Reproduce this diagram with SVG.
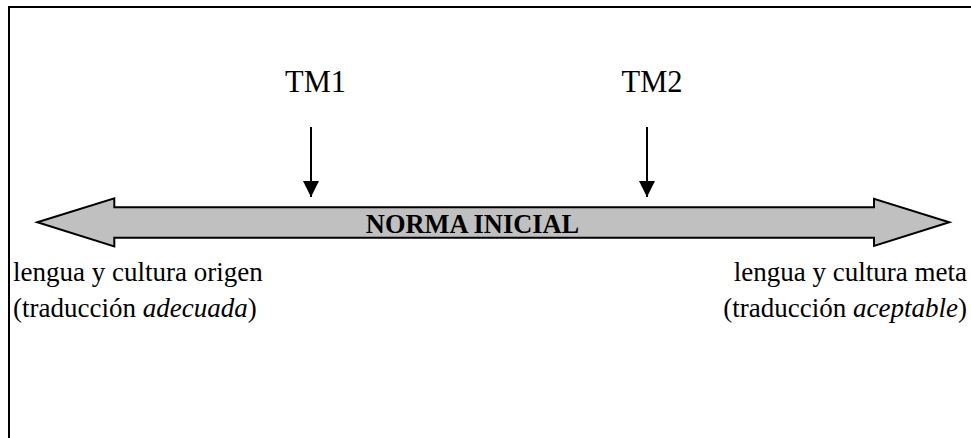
<svg xmlns="http://www.w3.org/2000/svg" width="971" height="438" viewBox="0 0 971 438">
<style>
text{font-family:'Liberation Serif',Tinos,'Times New Roman',Times,serif;fill:#000}
.lbl{font-size:27px}
.tm{font-size:30.5px;text-anchor:middle}
.conn{stroke:#000;stroke-width:2;fill:none}
</style>
<defs>
<marker id="ah" markerUnits="userSpaceOnUse" markerWidth="16" markerHeight="16" refX="16" refY="8" orient="auto" viewBox="0 0 16 16">
<path d="M0,0 L16,8 L0,16 Z" fill="#000"/>
</marker>
</defs>
<rect width="971" height="438" fill="#fff"/>
<path d="M9,438 V7 H971" stroke="#000" stroke-width="2" fill="none"/>
<g id="scale">
<polygon points="37.3,222.3 114.3,198.3 114.3,207.3 874,207.3 874,198.8 949.3,222.3 874,246 874,237.7 114.3,237.7 114.3,246.5" fill="#c0c0c0" stroke="#000" stroke-width="2" stroke-linejoin="miter"/>
<text font-family="Liberation Serif, serif" x="472.5" y="233.3" font-size="26.4" font-weight="bold" text-anchor="middle">NORMA INICIAL</text>
</g>
<g id="tm1">
<text class="tm" font-family="Liberation Serif, serif" x="315.5" y="92">TM1</text>
</g>
<g id="tm2">
<text class="tm" font-family="Liberation Serif, serif" x="652" y="92">TM2</text>
</g>
<g id="connectors">
<line class="conn" x1="311" y1="127" x2="311" y2="197" marker-end="url(#ah)"/>
<line class="conn" x1="647" y1="127" x2="647" y2="197" marker-end="url(#ah)"/>
</g>
<g id="origen">
<text class="lbl" font-family="Liberation Serif, serif" x="13" y="281">lengua y cultura origen</text>
<text class="lbl" font-family="Liberation Serif, serif" x="13" y="317">(traducción <tspan font-style="italic">adecuada</tspan>)</text>
</g>
<g id="meta">
<text class="lbl" font-family="Liberation Serif, serif" x="967" y="281" text-anchor="end">lengua y cultura meta</text>
<text class="lbl" font-family="Liberation Serif, serif" x="967" y="317" text-anchor="end">(traducción <tspan font-style="italic">aceptable</tspan>)</text>
</g>
</svg>
